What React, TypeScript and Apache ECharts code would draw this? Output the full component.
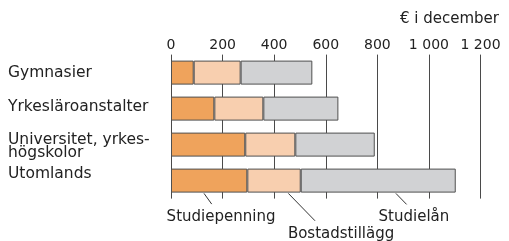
import React, { useEffect, useRef } from 'react';
import * as echarts from 'echarts';

const categories = ['Gymnasier', 'Yrkesläroanstalter', 'Universitet, yrkes-\nhögskolor', 'Utomlands'];
const studiepenning = [88, 168, 288, 296];
const bostadstillagg = [182, 190, 194, 207];
const studielan = [278, 291, 308, 601];
const seriesNames = ['Studiepenning', 'Bostadstillägg', 'Studielån'];
const seriesColors = ['#EFA35C', '#F8CFAF', '#D1D2D4'];
const unitLabel = '€ i december';
// values along the Utomlands bar where each annotation's leader line starts
const pointerValues = [128, 455, 872];

const FONT = 'DejaVu Sans';
const TEXT = '#222';

function fmtTick(v: number): string {
  if (v >= 1000) {
    const th = Math.floor(v / 1000);
    const rest = String(v % 1000).padStart(3, '0');
    return th + ' ' + rest;
  }
  return String(v);
}

export default function App() {
  const ref = useRef<HTMLDivElement>(null);
  useEffect(() => {
    if (!ref.current) return;
    const chart = echarts.init(ref.current, null, { renderer: 'svg' });
    const barWidth = 24;
    const option: any = {
      animation: false,
      title: {
        text: unitLabel,
        right: 5,
        top: 5,
        textStyle: { fontFamily: FONT, fontSize: 15, fontWeight: 'normal', color: TEXT },
      },
      grid: { left: 171, right: 28.5, top: 54.6, bottom: 42.4, containLabel: false },
      xAxis: {
        type: 'value',
        position: 'top',
        min: 0,
        max: 1200,
        interval: 200,
        axisLine: { show: false },
        axisTick: { show: false },
        splitLine: { show: true, lineStyle: { color: '#4a4a4a', width: 1 } },
        axisLabel: {
          margin: 4,
          fontFamily: FONT,
          fontSize: 14,
          color: TEXT,
          formatter: (v: number) => fmtTick(v),
        },
      },
      yAxis: {
        type: 'category',
        inverse: true,
        data: categories,
        axisLine: { show: false },
        axisTick: { show: false },
        axisLabel: {
          align: 'left',
          margin: 163,
          fontFamily: FONT,
          fontSize: 15.5,
          color: TEXT,
          formatter: (value: string, index: number) => {
            if (index === 2) {
              const lines = value.split('\n');
              return '{m|' + lines[0] + '}\n{n|' + lines[1] + '}';
            }
            if (index === 1) return '{b|' + value + '}';
            if (index === 3) return '{d|' + value + '}';
            return '{a|' + value + '}';
          },
          rich: {
            a: { fontFamily: FONT, fontSize: 15.5, color: TEXT, padding: [0, 0, 1, 0] },
            b: { fontFamily: FONT, fontSize: 15.5, color: TEXT, padding: [0, 0, 5, 0] },
            d: { fontFamily: FONT, fontSize: 15.5, color: TEXT, padding: [0, 0, 15, 0] },
            m: { fontFamily: FONT, fontSize: 15.5, color: TEXT, lineHeight: 15, padding: [3, 0, 0, 0] },
            n: { fontFamily: FONT, fontSize: 15.5, color: TEXT, lineHeight: 15 },
          },
        },
      },
      series: [studiepenning, bostadstillagg, studielan].map((d, i) => ({
        type: 'bar',
        name: seriesNames[i],
        stack: 'total',
        data: d,
        barWidth,
        itemStyle: { color: seriesColors[i], borderColor: '#505050', borderWidth: 1 },
      })),
    };
    chart.setOption(option);

    // annotations
    const lineEnd = [[7.7, 10.7], [26.7, 27.4], [10.7, 11]];
    const textOff = [[17, 23], [52.7, 40], [18, 23]];
    const graphics: any[] = [];
    pointerValues.forEach((v, i) => {
      const p = chart.convertToPixel({ gridIndex: 0 } as any, [v, categories.length - 1]) as number[];
      if (!p) return;
      const ax = p[0];
      const ay = p[1] + barWidth / 2 + 0.8;
      graphics.push({
        type: 'line',
        shape: { x1: ax, y1: ay, x2: ax + lineEnd[i][0], y2: ay + lineEnd[i][1] },
        style: { stroke: '#333', lineWidth: 1 },
        silent: true,
      });
      graphics.push({
        type: 'text',
        x: ax + textOff[i][0],
        y: ay + textOff[i][1],
        style: {
          text: seriesNames[i],
          fontFamily: FONT,
          fontSize: 15,
          fill: TEXT,
          align: 'center',
          verticalAlign: 'middle',
        },
        silent: true,
      });
    });
    chart.setOption({ graphic: graphics });

    return () => chart.dispose();
  }, []);
  return (
    <div
      ref={ref}
      style={{ position: 'fixed', left: 0, top: 0, width: 509, height: 241 }}
    />
  );
}
